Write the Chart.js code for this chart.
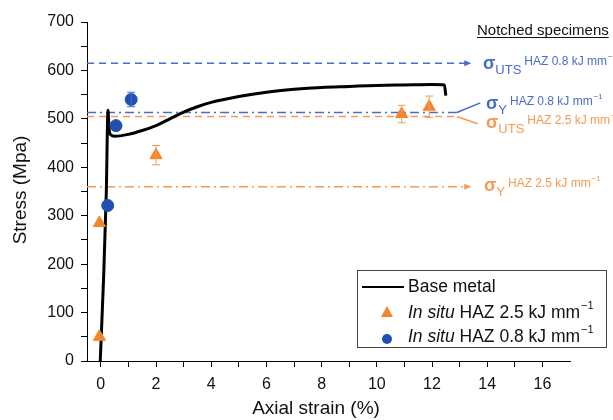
<!DOCTYPE html>
<html><head><meta charset="utf-8">
<script src="https://cdn.jsdelivr.net/npm/chart.js@4.4.1/dist/chart.umd.min.js"></script>
<style>html,body{margin:0;padding:0;background:#fff}#wrap{width:613px;height:420px}</style>
</head><body><div id="wrap"><canvas id="c" width="613" height="420"></canvas></div>
<script>
// ---- data ----
const baseStrain = [-0.02, 0.1, 0.2, 0.26, 0.3, 0.36, 0.5, 1.0, 1.5, 2.0, 2.5, 3.0, 3.5, 4.0, 5.0, 6.0, 7.0, 8.0, 9.0, 10.0, 11.0, 12.0, 12.45, 12.5];
const baseStress = [0, 170, 350, 518, 480, 467, 464, 468, 476, 486, 500, 514, 525, 534, 546, 555, 561, 565, 567, 569, 570, 571, 570, 548];
const orangeStrain = [-0.05, -0.05, 2.0, 10.9, 11.9];
const orangeStress = [50, 285, 425, 510, 525];
const orangeErr = [0, 0, 20, 18, 22];
const blueStrain = [0.25, 0.55, 1.1];
const blueStress = [321, 486, 540];
const blueErr = [0, 0, 15];
const refUtsBlue = 615, refYBlue = 513, refUtsOrange = 505, refYOrange = 360;
const xTickValues = [0,1,2,3,4,5,6,7,8,9,10,11,12,13,14,15,16];
const yTickValues = [0,50,100,150,200,250,300,350,400,450,500,550,600,650,700];
const legendLabels = ['Base metal', 'HAZ 2.5 kJ mm', 'HAZ 0.8 kJ mm'];

const BLUE = '#4a6cc8', ORANGE = '#f59a50', BLUE_M = '#1f4fb0', ORANGE_M = '#f5852a';
const FONT = '"Liberation Sans", Arial, Helvetica, sans-serif';
const pts = (xs, ys) => xs.map((x, i) => ({x, y: ys[i]}));
const lineStart = -0.5, lineEnd = 12.9, arrowEnd = 13.35;

const datasets = [
  {label:'o', data: pts(orangeStrain, orangeStress), pointStyle:'triangle', pointRadius:7, backgroundColor:ORANGE_M, borderColor:ORANGE_M, showLine:false},
  {label:'b', data: pts(blueStrain, blueStress), pointStyle:'circle', pointRadius:6, backgroundColor:BLUE_M, borderColor:BLUE_M, showLine:false},
  {label:'base', data: pts(baseStrain, baseStress), borderColor:'#000', borderWidth:3, pointRadius:0, showLine:true, cubicInterpolationMode:'monotone', fill:false},
  {label:'r1', data:[{x:lineStart,y:refUtsBlue},{x:arrowEnd,y:refUtsBlue}], borderColor:BLUE, borderWidth:1.5, borderDash:[7,5], pointRadius:0, showLine:true},
  {label:'r2', data:[{x:lineStart,y:refYBlue},{x:lineEnd,y:refYBlue}], borderColor:BLUE, borderWidth:1.5, borderDash:[9,4,2,4], pointRadius:0, showLine:true},
  {label:'r3', data:[{x:lineStart,y:refUtsOrange},{x:lineEnd,y:refUtsOrange}], borderColor:ORANGE, borderWidth:1.5, borderDash:[7,5], pointRadius:0, showLine:true},
  {label:'r4', data:[{x:lineStart,y:refYOrange},{x:arrowEnd,y:refYOrange}], borderColor:ORANGE, borderWidth:1.5, borderDash:[9,4,2,4], pointRadius:0, showLine:true}
];

function sigmaLabel(ctx, x, y, sub, rest, color) {
  ctx.save();
  ctx.fillStyle = color;
  ctx.textBaseline = 'middle';
  ctx.textAlign = 'left';
  ctx.font = 'bold 18px ' + FONT;
  ctx.fillText('σ', x, y);
  let w = ctx.measureText('σ').width;
  ctx.font = '13px ' + FONT;
  ctx.fillText(sub, x + w, y + 6);
  let w2 = ctx.measureText(sub).width;
  ctx.font = '12px ' + FONT;
  const rx = x + w + w2 + 3;
  ctx.fillText(rest, rx, y - 2);
  const w3 = ctx.measureText(rest).width;
  ctx.font = '8px ' + FONT;
  ctx.fillText('−1', rx + w3 + 1, y - 7);
  ctx.restore();
}

const extras = {
  id: 'extras',
  afterDatasetsDraw(chart) {
    const ctx = chart.ctx, xs = chart.scales.x, ys = chart.scales.y;
    ctx.save();
    const eb = (xv, yv, e, col) => {
      if (!e) return;
      const px = xs.getPixelForValue(xv), t = ys.getPixelForValue(yv + e), b = ys.getPixelForValue(yv - e);
      ctx.strokeStyle = col; ctx.lineWidth = 1;
      ctx.beginPath(); ctx.moveTo(px, t); ctx.lineTo(px, b);
      ctx.moveTo(px - 4, t); ctx.lineTo(px + 4, t);
      ctx.moveTo(px - 4, b); ctx.lineTo(px + 4, b); ctx.stroke();
    };
    orangeStrain.forEach((x, i) => eb(x, orangeStress[i], orangeErr[i], ORANGE));
    blueStrain.forEach((x, i) => eb(x, blueStress[i], blueErr[i], BLUE));
    const arrow = (xv, yv, col) => {
      const px = xs.getPixelForValue(xv), py = ys.getPixelForValue(yv);
      ctx.fillStyle = col; ctx.beginPath();
      ctx.moveTo(px + 2, py); ctx.lineTo(px - 5, py - 3); ctx.lineTo(px - 5, py + 3); ctx.closePath(); ctx.fill();
    };
    arrow(arrowEnd, refUtsBlue, BLUE);
    arrow(arrowEnd, refYOrange, ORANGE);
    const leader = (x0, y0, x1, y1, col) => {
      ctx.strokeStyle = col; ctx.lineWidth = 1.5; ctx.setLineDash([]);
      ctx.beginPath(); ctx.moveTo(xs.getPixelForValue(x0), ys.getPixelForValue(y0));
      ctx.lineTo(xs.getPixelForValue(x1), ys.getPixelForValue(y1)); ctx.stroke();
    };
    leader(lineEnd, refYBlue, 13.75, 533, BLUE);
    leader(lineEnd, refUtsOrange, 13.65, 490, ORANGE);
    ctx.restore();

    sigmaLabel(ctx, 483, 64, 'UTS', 'HAZ 0.8 kJ mm', BLUE);
    sigmaLabel(ctx, 486, 104, 'Y', 'HAZ 0.8 kJ mm', BLUE);
    sigmaLabel(ctx, 486, 123, 'UTS', 'HAZ 2.5 kJ mm', ORANGE);
    sigmaLabel(ctx, 484, 186, 'Y', 'HAZ 2.5 kJ mm', ORANGE);

    ctx.save();
    ctx.fillStyle = '#111'; ctx.font = '15px ' + FONT; ctx.textBaseline = 'alphabetic'; ctx.textAlign = 'left';
    ctx.fillText('Notched specimens', 477, 35);
    const nw = ctx.measureText('Notched specimens').width;
    ctx.fillRect(477, 37, nw, 1);

    ctx.font = '19px ' + FONT; ctx.textAlign = 'center'; ctx.textBaseline = 'middle';
    ctx.fillText('Axial strain (%)', 316, 409);
    ctx.save(); ctx.translate(21, 190); ctx.rotate(-Math.PI / 2); ctx.fillText('Stress (Mpa)', 0, 0); ctx.restore();

    ctx.fillStyle = '#fff'; ctx.fillRect(357, 270, 250, 77);
    ctx.strokeStyle = '#444'; ctx.lineWidth = 1; ctx.strokeRect(357.5, 270.5, 249, 77);
    ctx.strokeStyle = '#000'; ctx.lineWidth = 2;
    ctx.beginPath(); ctx.moveTo(362, 287); ctx.lineTo(404, 287); ctx.stroke();
    ctx.fillStyle = ORANGE_M; ctx.beginPath();
    ctx.moveTo(387, 306); ctx.lineTo(393, 317); ctx.lineTo(381, 317); ctx.closePath(); ctx.fill();
    ctx.fillStyle = BLUE_M; ctx.beginPath(); ctx.arc(387, 339, 5, 0, Math.PI * 2); ctx.fill();
    ctx.fillStyle = '#111'; ctx.textAlign = 'left'; ctx.textBaseline = 'middle';
    ctx.font = '17.5px ' + FONT; ctx.fillText(legendLabels[0], 408, 287);
    const rows = [[legendLabels[1], 313], [legendLabels[2], 337]];
    rows.forEach(([t, y]) => {
      ctx.font = 'italic 17.5px ' + FONT; ctx.fillText('In situ', 408, y);
      let w = ctx.measureText('In situ ').width;
      ctx.font = '17.5px ' + FONT; ctx.fillText(t, 408 + w, y);
      let w2 = ctx.measureText(t).width;
      ctx.font = '11px ' + FONT; ctx.fillText('−1', 408 + w + w2 + 1, y - 7);
    });
    ctx.restore();
  }
};

new Chart(document.getElementById('c'), {
  type: 'scatter',
  data: { datasets },
  options: {
    responsive: false, animation: false,
    layout: { padding: { left: 0, top: 22, right: 43, bottom: 0 } },
    plugins: { legend: { display: false }, tooltip: { enabled: false } },
    scales: {
      x: {
        type: 'linear', min: -0.5, max: 17,
        afterBuildTicks: s => { s.ticks = xTickValues.map(v => ({ value: v })); },
        afterFit: s => { s.height = 59; },
        ticks: { autoSkip: false, maxRotation: 0, padding: 8, color: '#111', font: { size: 16, family: FONT },
                 callback: v => (v % 2 === 0 ? String(v) : '') },
        grid: { drawOnChartArea: false, drawTicks: true, tickLength: 6, color: '#000' },
        border: { color: '#000', width: 1 }
      },
      y: {
        type: 'linear', min: 0, max: 700,
        afterBuildTicks: s => { s.ticks = yTickValues.map(v => ({ value: v })); },
        afterFit: s => { s.width = 87; },
        ticks: { autoSkip: false, padding: 7, color: '#111', font: { size: 16, family: FONT },
                 callback: v => (v % 100 === 0 ? String(v) : '') },
        grid: { drawOnChartArea: false, drawTicks: true, tickLength: 6, color: '#000' },
        border: { color: '#000', width: 1 }
      }
    }
  },
  plugins: [extras]
});
</script></body></html>
